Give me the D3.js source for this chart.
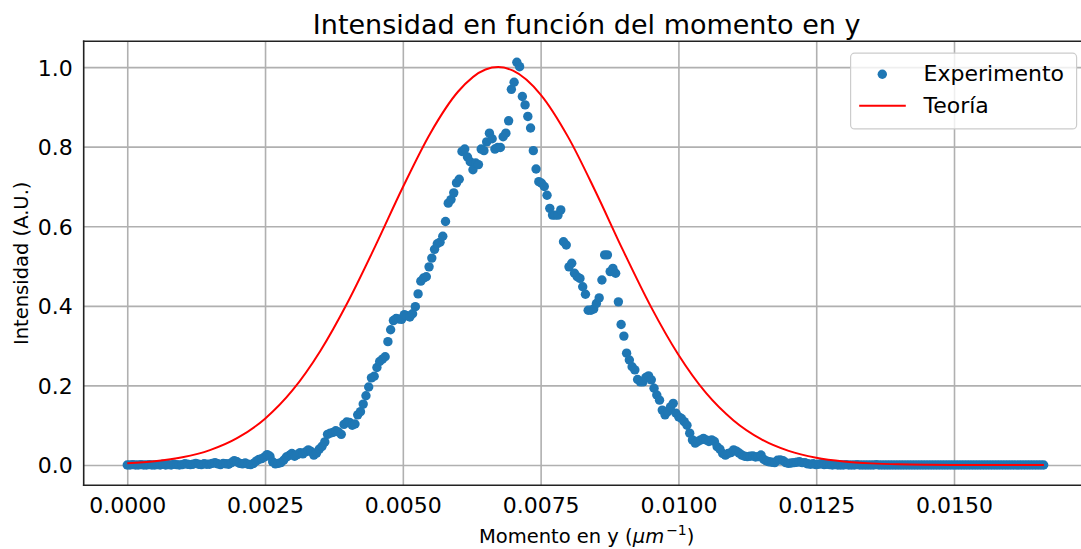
<!DOCTYPE html>
<html>
<head>
<meta charset="utf-8">
<script src="https://cdn.jsdelivr.net/npm/d3@7"></script>
<style>
  body { margin: 0; background: #fff; }
  svg { display: block; font-family: "DejaVu Sans", sans-serif; }
</style>
</head>
<body>
<div id="chart"></div>
<script>
// Experimento: intensidad medida, puntos equiespaciados en el momento
const momentoInicio = 0;
const momentoPaso = 4.978e-5;
const intensidadExp = [
  0, 0, 0.001, 0, 0, 0.001, 0, 0, 0.001, 0,
  0, 0.001, 0, 0.002, 0, 0.001, 0, 0.002, 0.001, 0,
  0.001, 0.003, 0.002, 0.001, 0.002, 0.004, 0.002, 0.001, 0.003, 0.002,
  0.002, 0.004, 0.006, 0.003, 0.001, 0.004, 0.003, 0.002, 0.006, 0.011,
  0.008, 0.004, 0.003, 0.005, 0.002, 0.001, 0.004, 0.010, 0.014, 0.016,
  0.020, 0.026, 0.022, 0.008, 0.003, 0.004, 0.006, 0.012, 0.020, 0.024,
  0.029, 0.022, 0.026, 0.031, 0.028, 0.033, 0.038, 0.034, 0.025, 0.030,
  0.040, 0.047, 0.058, 0.077, 0.080, 0.082, 0.086, 0.083, 0.077, 0.102,
  0.108, 0.107, 0.100, 0.103, 0.126, 0.134, 0.153, 0.174, 0.196, 0.219,
  0.223, 0.245, 0.260, 0.266, 0.272, 0.310, 0.340, 0.363, 0.368, 0.367,
  0.366, 0.378, 0.375, 0.372, 0.380, 0.398, 0.430, 0.462, 0.470, 0.473,
  0.498, 0.520, 0.542, 0.556, 0.560, 0.575, 0.612, 0.658, 0.667, 0.684,
  0.709, 0.718, 0.788, 0.794, 0.774, 0.762, 0.742, 0.759, 0.755, 0.794,
  0.790, 0.812, 0.834, 0.820, 0.794, 0.798, 0.798, 0.825, 0.834, 0.865,
  0.944, 0.962, 1.012, 1.001, 0.926, 0.905, 0.876, 0.847, 0.790, 0.744,
  0.712, 0.708, 0.700, 0.678, 0.645, 0.628, 0.628, 0.628, 0.641, 0.561,
  0.553, 0.498, 0.507, 0.482, 0.473, 0.469, 0.448, 0.429, 0.389, 0.389,
  0.392, 0.406, 0.420, 0.465, 0.528, 0.528, 0.486, 0.494, 0.482, 0.410,
  0.353, 0.324, 0.281, 0.264, 0.247, 0.239, 0.215, 0.209, 0.209, 0.220,
  0.224, 0.214, 0.193, 0.176, 0.163, 0.138, 0.126, 0.134, 0.146, 0.155,
  0.130, 0.121, 0.117, 0.109, 0.100, 0.080, 0.063, 0.055, 0.059, 0.063,
  0.067, 0.063, 0.059, 0.063, 0.059, 0.046, 0.040, 0.029, 0.025, 0.029,
  0.031, 0.038, 0.035, 0.030, 0.025, 0.022, 0.021, 0.022, 0.023, 0.020,
  0.021, 0.025, 0.014, 0.010, 0.008, 0.007, 0.006, 0.012, 0.013, 0.011,
  0.006, 0.004, 0.005, 0.006, 0.007, 0.008, 0.006, 0.006, 0.003, 0.002,
  0.003, 0.001, 0.002, 0.003, 0.001, 0.002, 0.001, 0, 0.001, 0,
  0, 0, 0.001, 0, 0, 0, 0.001, 0, 0, 0,
  0, 0, 0, 0.001, 0, 0, 0, 0, 0, 0,
  0, 0, 0, 0, 0, 0, 0, 0, 0, 0,
  0, 0, 0, 0, 0, 0, 0, 0, 0, 0,
  0, 0, 0, 0, 0, 0, 0, 0, 0, 0,
  0, 0, 0, 0, 0, 0, 0, 0, 0, 0,
  0, 0, 0, 0, 0, 0, 0, 0, 0, 0,
  0, 0, 0, 0, 0
];

// Teoría: curva
const teoriaX = [
  0, 0.0005, 0.001, 0.0015, 0.002, 0.0025, 0.003, 0.0035, 0.004, 0.0045,
  0.005, 0.0055, 0.006, 0.0065, 0.00673, 0.007, 0.0075, 0.008, 0.0085, 0.009,
  0.0095, 0.010, 0.0105, 0.011, 0.0115, 0.012, 0.0125, 0.013, 0.0135, 0.014,
  0.0145, 0.015, 0.0155, 0.016, 0.01663
];
const teoriaY = [
  0.0043, 0.0094, 0.0193, 0.0374, 0.068, 0.1165, 0.188, 0.286, 0.409, 0.550,
  0.698, 0.834, 0.938, 0.994, 1.0, 0.991, 0.931, 0.824, 0.686, 0.538,
  0.398, 0.277, 0.181, 0.112, 0.065, 0.0355, 0.0183, 0.0089, 0.0041, 0.0017,
  0.0007, 0.0003, 0.0001, 0, 0
];

const xTicks = [0, 0.0025, 0.005, 0.0075, 0.01, 0.0125, 0.015];
const yTicks = [0, 0.2, 0.4, 0.6, 0.8, 1.0];
const legendLabels = ["Experimento", "Teoría"];

const width = 1081;
const height = 549;
const plot = { left: 83.7, right: 1089.6, top: 41.3, bottom: 485.3 };
const blue = "#1f77b4";
const fontFamily = '"DejaVu Sans", sans-serif';
const dotRadius = 4.7;

const svg = d3
  .select("#chart")
  .append("svg")
  .attr("width", width)
  .attr("height", height);

const xScale = d3
  .scaleLinear()
  .domain([-0.00079, 0.01746])
  .range([plot.left, plot.right]);

const yScale = d3
  .scaleLinear()
  .domain([-0.051, 1.0648])
  .range([plot.bottom, plot.top]);

const expData = intensidadExp.map((v, i) => ({
  x: momentoInicio + i * momentoPaso,
  y: v,
}));
const teoData = teoriaX.map((v, i) => ({ x: v, y: teoriaY[i] }));

svg
  .append("clipPath")
  .attr("id", "plot-clip")
  .append("rect")
  .attr("x", plot.left)
  .attr("y", plot.top)
  .attr("width", plot.right - plot.left)
  .attr("height", plot.bottom - plot.top);

// grid
const gridGroup = svg.append("g").attr("class", "grid");
gridGroup
  .append("g")
  .attr("transform", `translate(0, ${plot.bottom})`)
  .call(
    d3.axisBottom(xScale)
      .tickValues(xTicks)
      .tickSize(-(plot.bottom - plot.top))
      .tickFormat("")
  );
gridGroup
  .append("g")
  .attr("transform", `translate(${plot.left}, 0)`)
  .call(
    d3.axisLeft(yScale)
      .tickValues(yTicks)
      .tickSize(-(plot.right - plot.left))
      .tickFormat("")
  );
gridGroup.selectAll(".domain").remove();
gridGroup
  .selectAll(".tick line")
  .attr("stroke", "#b0b0b0")
  .attr("stroke-width", 1.6);

// scatter
const markGroup = svg.append("g").attr("clip-path", "url(#plot-clip)");
markGroup
  .selectAll("circle")
  .data(expData)
  .join("circle")
  .attr("cx", (d) => xScale(d.x))
  .attr("cy", (d) => yScale(d.y))
  .attr("r", dotRadius)
  .attr("fill", blue);

// theory line
const line = d3
  .line()
  .x((d) => xScale(d.x))
  .y((d) => yScale(d.y))
  .curve(d3.curveMonotoneX);

markGroup
  .append("path")
  .datum(teoData)
  .attr("d", line)
  .attr("fill", "none")
  .attr("stroke", "red")
  .attr("stroke-width", 2);

// axes
const xAxisG = svg
  .append("g")
  .attr("transform", `translate(0, ${plot.bottom})`)
  .call(
    d3.axisBottom(xScale)
      .tickValues(xTicks)
      .tickSize(0)
      .tickPadding(0)
      .tickFormat(d3.format(".4f"))
  )
  .attr("font-family", fontFamily)
  .attr("font-size", 22);
xAxisG.select(".domain").remove();
xAxisG
  .selectAll("text")
  .attr("y", 27.7)
  .attr("dy", null)
  .attr("fill", "#000");

const yAxisG = svg
  .append("g")
  .attr("transform", `translate(${plot.left}, 0)`)
  .call(
    d3.axisLeft(yScale)
      .tickValues(yTicks)
      .tickSize(0)
      .tickPadding(11)
      .tickFormat(d3.format(".1f"))
  )
  .attr("font-family", fontFamily)
  .attr("font-size", 22);
yAxisG.select(".domain").remove();
yAxisG
  .selectAll("text")
  .attr("fill", "#000")
  .attr("dy", "0.36em");

// spines
svg
  .append("g")
  .selectAll("line")
  .data([
    [plot.left, plot.top, plot.right, plot.top],
    [plot.left, plot.bottom, plot.right, plot.bottom],
    [plot.left, plot.top, plot.left, plot.bottom],
    [plot.right, plot.top, plot.right, plot.bottom],
  ])
  .join("line")
  .attr("x1", (d) => d[0])
  .attr("y1", (d) => d[1])
  .attr("x2", (d) => d[2])
  .attr("y2", (d) => d[3])
  .attr("stroke", "#222")
  .attr("stroke-width", 1.6)
  .attr("stroke-linecap", "square");

// title and labels
const cx = (plot.left + plot.right) / 2;
svg
  .append("text")
  .attr("x", cx)
  .attr("y", 34)
  .attr("text-anchor", "middle")
  .style("font-size", "27px")
  .text("Intensidad en función del momento en y");

const xLabel = svg
  .append("text")
  .attr("x", cx)
  .attr("y", 542.7)
  .attr("text-anchor", "middle")
  .style("font-size", "19.5px");
xLabel.append("tspan").text("Momento en y (");
xLabel.append("tspan").style("font-style", "italic").text("μm");
xLabel
  .append("tspan")
  .attr("dx", 2)
  .attr("dy", -8)
  .style("font-size", "14px")
  .text("−1");
xLabel.append("tspan").attr("dy", 8).text(")");

svg
  .append("text")
  .attr("transform", `translate(28, ${(plot.top + plot.bottom) / 2}) rotate(-90)`)
  .attr("text-anchor", "middle")
  .style("font-size", "19.5px")
  .text("Intensidad (A.U.)");

// legend
const legend = svg.append("g").attr("class", "legend");
legend
  .append("rect")
  .attr("x", 850.6)
  .attr("y", 53.2)
  .attr("width", 226)
  .attr("height", 75.7)
  .attr("rx", 4)
  .attr("fill", "#fff")
  .attr("fill-opacity", 0.8)
  .attr("stroke", "#cccccc")
  .attr("stroke-width", 1.2);

legend
  .append("circle")
  .attr("cx", 882.3)
  .attr("cy", 74.2)
  .attr("r", dotRadius)
  .attr("fill", blue);

legend
  .append("line")
  .attr("x1", 859.2)
  .attr("x2", 905.8)
  .attr("y1", 105.7)
  .attr("y2", 105.7)
  .attr("stroke", "red")
  .attr("stroke-width", 2);

legend
  .selectAll("text")
  .data(legendLabels)
  .join("text")
  .attr("x", 923.5)
  .attr("y", (d, i) => [81.2, 113.2][i])
  .style("font-size", "22px")
  .text((d) => d);
</script>
</body>
</html>
